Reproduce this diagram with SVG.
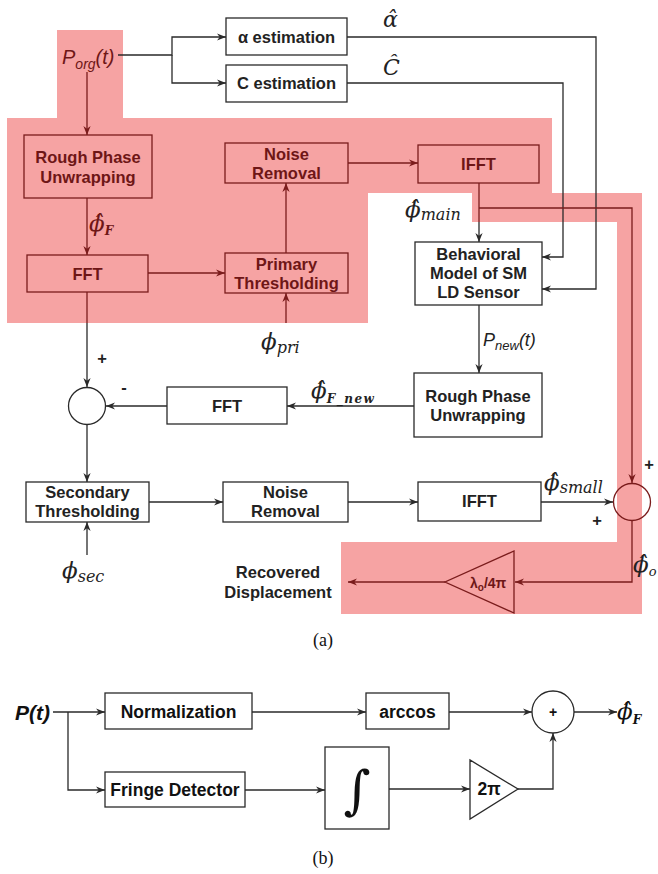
<svg xmlns="http://www.w3.org/2000/svg" width="658" height="874" viewBox="0 0 658 874">
<defs>
<style>
.box{fill:#fff;stroke:#2a2a2a;stroke-width:1.3}
.pbox{fill:none;stroke:#7a1c1c;stroke-width:1.3}
.ln{fill:none;stroke:#2a2a2a;stroke-width:1.3}
.pln{fill:none;stroke:#7a1c1c;stroke-width:1.3}
.t{font-family:"Liberation Sans",Arial,sans-serif;font-weight:bold;font-size:16.5px;text-anchor:middle;fill:#222}
.tb{font-family:"Liberation Sans",Arial,sans-serif;font-weight:bold;font-size:17.5px;text-anchor:middle;fill:#111}
.red{fill:#6e1616}
.m{font-family:"DejaVu Serif",serif;font-style:italic;font-size:23px;fill:#222}
.sub{font-size:16px}
.cap{font-family:"Liberation Serif","Times New Roman",serif;font-size:18px;text-anchor:middle;fill:#111}
</style>
<marker id="ab" viewBox="0 0 10 10" refX="10" refY="5" markerWidth="9" markerHeight="9" markerUnits="userSpaceOnUse" orient="auto"><path d="M0,1 L10,5 L0,9 L3,5 z" fill="#2a2a2a"/></marker>
<marker id="ar" viewBox="0 0 10 10" refX="10" refY="5" markerWidth="9" markerHeight="9" markerUnits="userSpaceOnUse" orient="auto"><path d="M0,1 L10,5 L0,9 L3,5 z" fill="#7a1c1c"/></marker>
</defs>
<rect width="658" height="874" fill="#fff"/>
<g id="highlight">
<path d="M7,118 H57 V30 H123 V118 H552 V193 H642 V614 H341 V542 H617 V222 H472 V193 H368 V323 H7 Z" fill="#f6a3a3"/>
</g>
<g id="connectors">
<path class="ln" d="M118,55 H172 V37 H226" marker-end="url(#ab)"/>
<path class="ln" d="M172,55 V83 H226" marker-end="url(#ab)"/>
<path class="ln" d="M347,37 H596 V289 H542" marker-end="url(#ab)"/>
<path class="ln" d="M347,83 H563 V257 H542" marker-end="url(#ab)"/>
<path class="pln" d="M87,72 V135" marker-end="url(#ar)"/>
<path class="pln" d="M87,198 V255" marker-end="url(#ar)"/>
<path class="pln" d="M148,273 H225" marker-end="url(#ar)"/>
<path class="pln" d="M286,253 V183" marker-end="url(#ar)"/>
<path class="pln" d="M348,163 H418" marker-end="url(#ar)"/>
<path class="pln" d="M286,323 V293" marker-end="url(#ar)"/>
<path class="pln" d="M479,183 V222"/>
<path class="ln" d="M479,222 V242" marker-end="url(#ab)"/>
<path class="pln" d="M479,208 H632 V483" marker-end="url(#ar)"/>
<path class="ln" d="M479,305 V373" marker-end="url(#ab)"/>
<path class="ln" d="M414,406 H287" marker-end="url(#ab)"/>
<path class="ln" d="M167,406 H106" marker-end="url(#ab)"/>
<path class="pln" d="M87,292 V323"/>
<path class="ln" d="M87,323 V387" marker-end="url(#ab)"/>
<path class="ln" d="M87,425 V482" marker-end="url(#ab)"/>
<path class="ln" d="M87,555 V522" marker-end="url(#ab)"/>
<path class="ln" d="M149,502 H223" marker-end="url(#ab)"/>
<path class="ln" d="M348,502 H418" marker-end="url(#ab)"/>
<path class="ln" d="M541,502 H613" marker-end="url(#ab)"/>
<path class="pln" d="M632,521 V582 H515" marker-end="url(#ar)"/>
<path class="pln" d="M445,582 H348" marker-end="url(#ar)"/>
<path class="ln" d="M53,712 H105" marker-end="url(#ab)"/>
<path class="ln" d="M68,712 V790 H105" marker-end="url(#ab)"/>
<path class="ln" d="M252,712 H366" marker-end="url(#ab)"/>
<path class="ln" d="M449,712 H532" marker-end="url(#ab)"/>
<path class="ln" d="M574,712 H617" marker-end="url(#ab)"/>
<path class="ln" d="M245,790 H325" marker-end="url(#ab)"/>
<path class="ln" d="M389,789 H470" marker-end="url(#ab)"/>
<path class="ln" d="M518,789 H553 V733" marker-end="url(#ab)"/>
</g>
<g id="alpha-est"><rect class="box" x="226" y="18" width="121" height="37"/><text class="t" x="286.5" y="42.5">α estimation</text></g>
<g id="c-est"><rect class="box" x="226" y="65" width="121" height="37"/><text class="t" x="286.5" y="89">C estimation</text></g>
<g id="rpu1"><rect class="pbox" x="24" y="135" width="128" height="63"/><text class="t red" x="88" y="162.5">Rough Phase</text><text class="t red" x="88" y="182.5">Unwrapping</text></g>
<g id="fft1"><rect class="pbox" x="27" y="255" width="121" height="37"/><text class="t red" x="87.5" y="279.5">FFT</text></g>
<g id="primary-thr"><rect class="pbox" x="225" y="253" width="123" height="40"/><text class="t red" x="286.5" y="269.5">Primary</text><text class="t red" x="286.5" y="289">Thresholding</text></g>
<g id="noise1"><rect class="pbox" x="225" y="143" width="123" height="40"/><text class="t red" x="286.5" y="159.5">Noise</text><text class="t red" x="286.5" y="179">Removal</text></g>
<g id="ifft1"><rect class="pbox" x="418" y="145" width="121" height="38"/><text class="t red" x="478.5" y="170">IFFT</text></g>
<g id="behavioral"><rect class="box" x="415" y="242" width="127" height="63"/><text class="t" x="478.5" y="260">Behavioral</text><text class="t" x="478.5" y="279">Model of SM</text><text class="t" x="478.5" y="298">LD Sensor</text></g>
<g id="rpu2"><rect class="box" x="414" y="373" width="128" height="64"/><text class="t" x="478" y="401.5">Rough Phase</text><text class="t" x="478" y="421">Unwrapping</text></g>
<g id="fft2"><rect class="box" x="167" y="387" width="120" height="37"/><text class="t" x="227" y="412">FFT</text></g>
<g id="sum1"><circle class="box" cx="87" cy="406" r="18.5"/><text class="t" x="102" y="364">+</text><text class="t" x="124" y="393">-</text></g>
<g id="secondary-thr"><rect class="box" x="26" y="482" width="123" height="40"/><text class="t" x="87.5" y="497.5">Secondary</text><text class="t" x="87.5" y="517">Thresholding</text></g>
<g id="noise2"><rect class="box" x="223" y="482" width="125" height="40"/><text class="t" x="285.5" y="497.5">Noise</text><text class="t" x="285.5" y="517">Removal</text></g>
<g id="ifft2"><rect class="box" x="418" y="482" width="123" height="39"/><text class="t" x="479.5" y="507">IFFT</text></g>
<g id="sum2"><circle cx="632" cy="502" r="18.5" fill="none" stroke="#7a1c1c" stroke-width="1.3"/><text class="t" x="649" y="470">+</text><text class="t" x="597" y="526">+</text></g>
<g id="gain"><polygon points="514,551 514,613 445,582" fill="none" stroke="#7a1c1c" stroke-width="1.3"/><text class="t red" x="470" y="588" style="text-anchor:start;font-size:14px">λ<tspan font-size="10" dy="3">o</tspan><tspan dy="-3">/4π</tspan></text></g>
<g id="recovered"><text class="t" x="278" y="578">Recovered</text><text class="t" x="278" y="598">Displacement</text></g>
<g id="labels">
<text x="62" y="64" style="font-family:'Liberation Sans',Arial,sans-serif;font-style:italic;font-size:20px;fill:#6e1616">P<tspan font-size="14" dy="5">org</tspan><tspan dy="-5">(t)</tspan></text>
<text x="483" y="346" style="font-family:'Liberation Sans',Arial,sans-serif;font-style:italic;font-size:18px;fill:#222">P<tspan font-size="13" dy="4">new</tspan><tspan dy="-4">(t)</tspan></text>
<text class="m" x="383" y="27" style="font-size:22px">α̂</text>
<text class="m" x="383" y="75" style="font-size:22px">Ĉ</text>
<text class="m" x="89" y="231" style="fill:#6e1616">ϕ̂<tspan dy="4" style="font-size:12px;font-weight:bold">F</tspan></text>
<text class="m" x="405" y="217">ϕ̂<tspan class="sub" dy="3">main</tspan></text>
<text class="m" x="261" y="349">ϕ<tspan class="sub" dy="4">pri</tspan></text>
<text class="m" x="311" y="398">ϕ̂<tspan dy="5" style="font-size:12px;font-weight:bold;letter-spacing:1.5px">F_new</tspan></text>
<text class="m" x="544" y="490">ϕ̂<tspan class="sub" dy="3">small</tspan></text>
<text class="m" x="62" y="578">ϕ<tspan class="sub" dy="4">sec</tspan></text>
<text class="m" x="633" y="572">ϕ̂<tspan dy="4" style="font-size:13px">o</tspan></text>
<text class="cap" x="323" y="646">(a)</text>
</g>
<g id="normalization"><rect class="box" x="105" y="693" width="147" height="36"/><text class="tb" x="178.5" y="718">Normalization</text></g>
<g id="arccos"><rect class="box" x="366" y="693" width="83" height="36"/><text class="tb" x="407.5" y="718">arccos</text></g>
<g id="sum-b"><circle class="box" cx="553" cy="712" r="21"/><text class="tb" x="553" y="717" style="font-size:14px">+</text></g>
<g id="fringe"><rect class="box" x="105" y="772" width="140" height="35"/><text class="tb" x="175" y="796">Fringe Detector</text></g>
<g id="integrator"><rect class="box" x="325" y="747" width="64" height="82"/><text x="357" y="808" style="font-family:'DejaVu Serif',serif;font-size:52px;text-anchor:middle;fill:#111">∫</text></g>
<g id="gain-2pi"><polygon points="470,760 470,819 518,789" fill="#fff" stroke="#2a2a2a" stroke-width="1.3"/><text class="tb" x="489" y="795">2π</text></g>
<g id="labels-b">
<text x="15" y="720" style="font-family:'Liberation Sans',Arial,sans-serif;font-style:italic;font-weight:bold;font-size:21px;fill:#111">P(t)</text>
<text class="m" x="617" y="719" style="fill:#111">ϕ̂<tspan dy="5" style="font-size:12px;font-weight:bold">F</tspan></text>
<text class="cap" x="323" y="864">(b)</text>
</g>
</svg>
